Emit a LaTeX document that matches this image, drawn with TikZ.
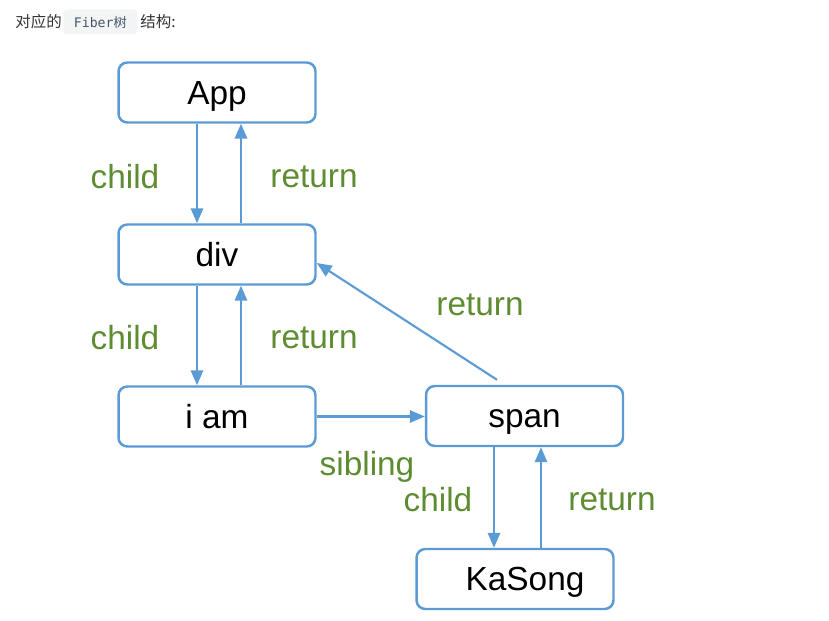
\documentclass[tikz,border=0pt]{standalone}
\usepackage{fontspec}
\setmainfont{Liberation Sans}
\newfontfamily\cjk{Noto Sans CJK SC}
\newfontfamily\codefont{DejaVu Sans Mono}
\usetikzlibrary{arrows.meta,calc}

\definecolor{fiberblue}{RGB}{91,155,213}
\definecolor{labelgreen}{RGB}{94,140,49}
\definecolor{headgray}{RGB}{51,51,51}
\definecolor{codebg}{RGB}{243,244,245}
\definecolor{codefg}{RGB}{71,85,105}

\tikzset{
  fiber/.style={draw=fiberblue,line width=1.4pt,rounded corners=5pt,
    minimum width=3.94cm,minimum height=1.2cm,inner sep=0pt,
    text height=13.6pt,text depth=0pt,
    font=\fontsize{19}{22}\selectfont},
  link/.style={fiberblue,line width=1.2pt,-{Triangle[length=8.5pt,width=7pt]}},
  lbl/.style={labelgreen,inner sep=0pt,font=\fontsize{19}{22}\selectfont}
}

\begin{document}
\begin{tikzpicture}[x=0.02cm,y=-0.02cm]
    \useasboundingbox (0,0) rectangle (829,621);

    % header line
    \node[anchor=west,inner sep=0pt,text=headgray,font=\cjk\fontsize{8.8}{10}\selectfont]
      (head) at (15,22) {对应的};
    \node[anchor=west,fill=codebg,rounded corners=2pt,minimum height=0.5cm,
      minimum width=1.48cm,inner xsep=4pt,text=codefg,font=\fontsize{7.5}{9}\selectfont]
      (code) at (63,22) {\codefont Fiber\cjk 树};
    \node[anchor=west,inner sep=0pt,text=headgray,font=\cjk\fontsize{8.8}{10}\selectfont]
      (tail) at (140,22) {结构:};

    % fiber nodes
    \node[fiber] (app) at (217,92.5) {App};
    \node[fiber] (div) at (217,254.5) {div};
    \node[fiber] (iam) at (217,416.5) {i am};
    \node[fiber] (span) at (524.5,416) {span};
    \node[fiber] (kasong) at (515,579) {\hspace*{0.4cm}KaSong};

    % links
    \draw[link] ([xshift=-0.4cm]app.south) -- ([xshift=-0.4cm]div.north);
    \draw[link] ([xshift=0.48cm]div.north) -- ([xshift=0.48cm]app.south);
    \draw[link] ([xshift=-0.4cm]div.south) -- ([xshift=-0.4cm]iam.north);
    \draw[link] ([xshift=0.48cm]iam.north) -- ([xshift=0.48cm]div.south);
    \draw[link] (iam.east) -- (iam.east -| span.west);
    \draw[link] ([xshift=-0.55cm,yshift=0.1cm]span.north) -- ([yshift=-0.17cm]div.east);
    \draw[link] ([xshift=-0.42cm]kasong.north |- span.south) -- ([xshift=-0.42cm]kasong.north);
    \draw[link] ([xshift=0.52cm]kasong.north) -- ([xshift=0.52cm]kasong.north |- span.south);

    % labels
    \node[lbl] (l1) at (125,177) {child};
    \node[lbl] (l2) at (314,177) {return};
    \node[lbl] (l3) at (125,338) {child};
    \node[lbl] (l4) at (314,338) {return};
    \node[lbl] (l5) at (480,305) {return};
    \node[lbl] (l6) at (367,467) {sibling};
    \node[lbl] (l7) at (438,500) {child};
    \node[lbl] (l8) at (612,500) {return};
  \end{tikzpicture}
\end{document}
